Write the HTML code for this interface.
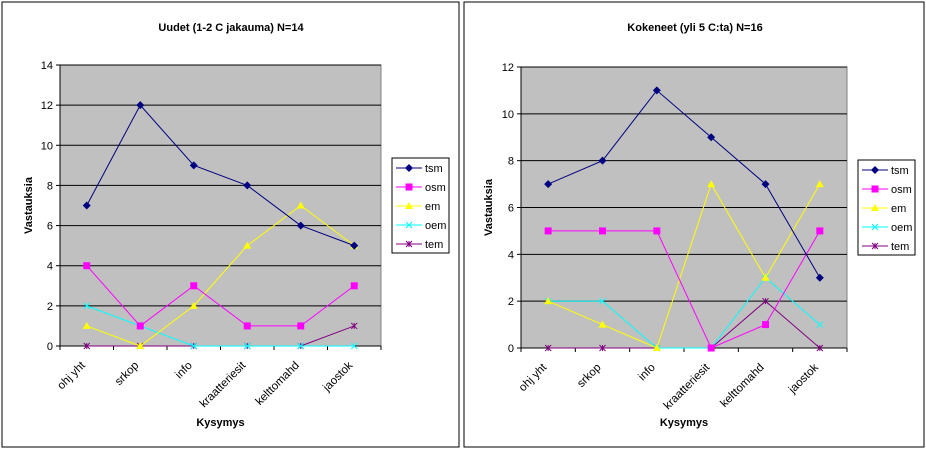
<!DOCTYPE html>
<html><head><meta charset="utf-8"><style>
body{margin:0;background:#fff;width:926px;height:451px;overflow:hidden}
svg{display:block;font-family:"Liberation Sans",Arial,sans-serif}
</style></head><body>
<svg id="s" width="926" height="451" xmlns="http://www.w3.org/2000/svg"></svg>
<script>
const S=document.getElementById('s');let h='';
const cats=['ohj yht','srkop','info','kraatteriesit','kelttomahd','jaostok'];
const cols={tsm:'#000080',osm:'#ff00ff',em:'#ffff00',oem:'#00ffff',tem:'#800080'};
function mk(t,x,y){const c=cols[t];
 if(t=='tsm')return `<polygon points="${x},${y-4} ${x+4},${y} ${x},${y+4} ${x-4},${y}" fill="${c}"/>`;
 if(t=='osm')return `<rect x="${x-3.5}" y="${y-3.5}" width="7" height="7" fill="${c}"/>`;
 if(t=='em')return `<polygon points="${x},${y-4} ${x+4},${y+3} ${x-4},${y+3}" fill="${c}"/>`;
 if(t=='oem')return `<path d="M${x-3} ${y-3}L${x+3} ${y+3}M${x-3} ${y+3}L${x+3} ${y-3}" stroke="${c}"/>`;
 return `<path d="M${x-3} ${y-3}L${x+3} ${y+3}M${x-3} ${y+3}L${x+3} ${y-3}M${x} ${y-3}V${y+3}" stroke="${c}"/>`;}
function chart(o){
 h+=`<rect x="${o.fx}" y="2" width="${o.fw}" height="445" fill="#fff" stroke="#000" stroke-width="1"/>`;
 h+=`<text x="${o.tx}" y="31" font-size="11" font-weight="bold" text-anchor="middle">${o.title}</text>`;
 h+=`<rect x="${o.x0}" y="${o.y0}" width="${o.x1-o.x0}" height="${o.y1-o.y0}" fill="#c0c0c0" stroke="#808080"/>`;
 const n=o.max/2;
 for(let i=0;i<=n;i++){const y=o.y1-(o.y1-o.y0)*i/n;
  if(i>0)h+=`<line x1="${o.x0}" x2="${o.x1}" y1="${y}" y2="${y}" stroke="#000"/>`;
  h+=`<line x1="${o.x0-4}" x2="${o.x0}" y1="${y}" y2="${y}" stroke="#000"/>`;
  h+=`<text x="${o.x0-7}" y="${y+4}" font-size="11" text-anchor="end">${i*2}</text>`;}
 h+=`<line x1="${o.x0}" x2="${o.x1}" y1="${o.y1}" y2="${o.y1}" stroke="#000"/><line x1="${o.x0}" x2="${o.x0}" y1="${o.y0}" y2="${o.y1}" stroke="#000"/>`;
 const cw=(o.x1-o.x0)/6;
 for(let i=0;i<=6;i++){const x=o.x0+cw*i;h+=`<line x1="${x}" x2="${x}" y1="${o.y1}" y2="${o.y1+4}" stroke="#000"/>`;}
 cats.forEach((c,i)=>{const x=o.x0+cw*(i+.5)-1,y=o.y1+20;
  h+=`<text transform="translate(${x},${y}) rotate(-45)" font-size="11.5" text-anchor="end">${c}</text>`;});
 const X=i=>o.x0+cw*(i+.5),Y=v=>o.y1-(o.y1-o.y0)*v/o.max;
 ['tem','oem','em','osm','tsm'].forEach(k=>{const d=o.d[k];
  h+=`<polyline fill="none" stroke="${cols[k]}" stroke-width="1" points="${d.map((v,i)=>X(i)+','+Y(v)).join(' ')}"/>`;
  d.forEach((v,i)=>h+=mk(k,X(i),Y(v)));});
 h+=`<text transform="translate(${o.ylx},${(o.y0+o.y1)/2}) rotate(-90)" font-size="11" font-weight="bold" text-anchor="middle">Vastauksia</text>`;
 h+=`<text x="${(o.x0+o.x1)/2}" y="426" font-size="11" font-weight="bold" text-anchor="middle">Kysymys</text>`;
 h+=`<rect x="${o.lx}" y="${o.ly}" width="57" height="95" fill="#fff" stroke="#000"/>`;
 ['tsm','osm','em','oem','tem'].forEach((k,i)=>{const y=o.ly+10+i*19;
  h+=`<line x1="${o.lx+4}" x2="${o.lx+30}" y1="${y}" y2="${y}" stroke="${cols[k]}"/>`+mk(k,o.lx+17,y);
  h+=`<text x="${o.lx+33}" y="${y+4}" font-size="11">${k}</text>`;});
}
chart({fx:2,fw:457,tx:231,title:'Uudet (1-2 C jakauma) N=14',x0:60,x1:381,y0:65,y1:346,max:14,ylx:32,lx:392,ly:158,
 d:{tsm:[7,12,9,8,6,5],osm:[4,1,3,1,1,3],em:[1,0,2,5,7,5],oem:[2,1,0,0,0,0],tem:[0,0,0,0,0,1]}});
chart({fx:464,fw:460,tx:695,title:'Kokeneet (yli 5 C:ta) N=16',x0:521,x1:847,y0:67,y1:348,max:12,ylx:492,lx:858,ly:160,
 d:{tsm:[7,8,11,9,7,3],osm:[5,5,5,0,1,5],em:[2,1,0,7,3,7],oem:[2,2,0,0,3,1],tem:[0,0,0,0,2,0]}});
S.innerHTML=h;
</script>
</body></html>
